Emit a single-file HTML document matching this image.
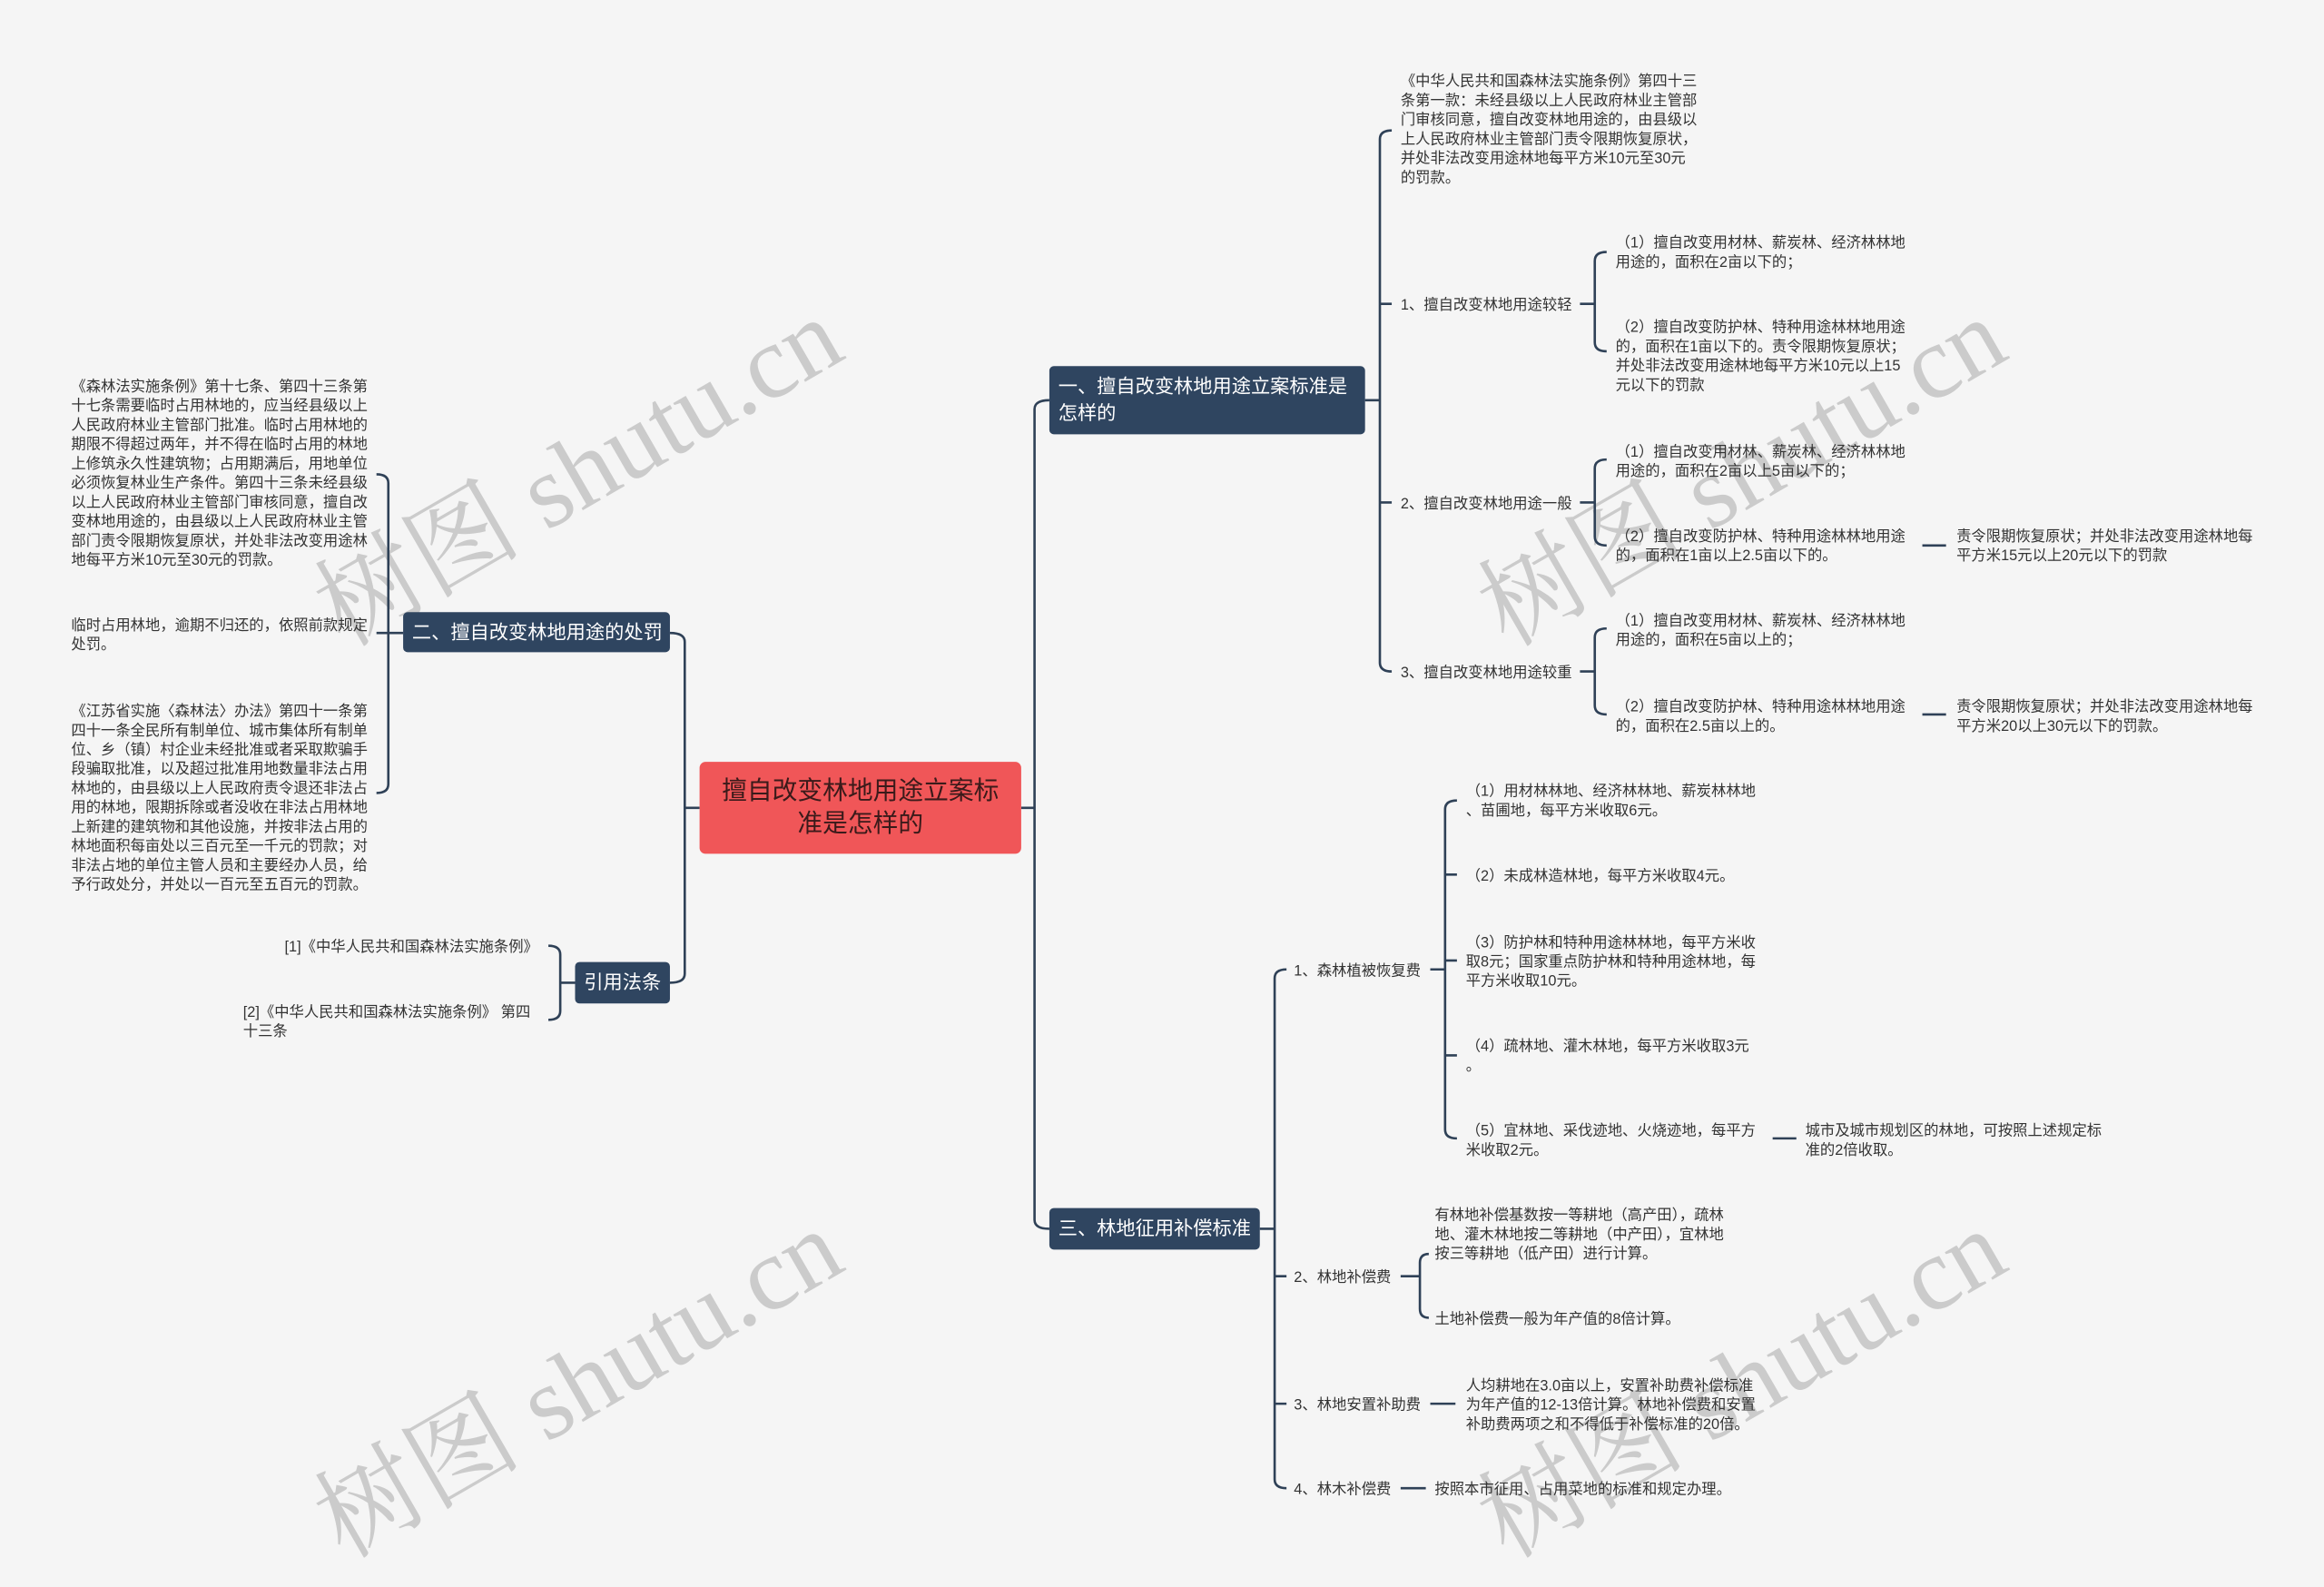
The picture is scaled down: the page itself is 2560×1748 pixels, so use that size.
<!DOCTYPE html>
<html><head><meta charset="utf-8">
<style>
html,body{margin:0;padding:0;background:#f5f5f5;}
body{width:2560px;height:1729px;overflow:hidden;position:relative;}
#w{position:absolute;left:0;top:0;width:1568px;height:1059px;transform:scale(1.632653);transform-origin:0 0;font-family:"Liberation Sans","Noto Sans CJK SC",sans-serif;color:#333;}
.t{position:absolute;font-size:10px;line-height:13px;white-space:nowrap;margin-top:2px;}
.n{position:absolute;background:#2f4560;color:#fff;border-radius:3px;font-size:13px;line-height:17px;box-sizing:border-box;padding:5px 6px;white-space:nowrap;}
.wm{position:absolute;font-family:"Liberation Serif","Noto Serif CJK SC",serif;font-size:70px;color:#cbcbcb;transform:rotate(-30deg);transform-origin:0 0;white-space:nowrap;}
svg{position:absolute;left:0;top:0;}
</style></head><body><div id="w">
<div class="wm" style="left:192px;top:368px;">树图 shutu.cn</div>
<div class="wm" style="left:977px;top:368px;">树图 shutu.cn</div>
<div class="wm" style="left:192px;top:983px;">树图 shutu.cn</div>
<div class="wm" style="left:977px;top:983px;">树图 shutu.cn</div>
<svg width="1568" height="1059" fill="none" stroke="#2f4157" stroke-width="1.6">
<path d="M689 545 L698 545 M708 270 Q698 270 698 276 L698 823 Q698 829 708 829"/>
<path d="M472 545 L462 545 M452 427 Q462 427 462 433 L462 657 Q462 663 452 663"/>
<path d="M272 427 L254 427 M254 320 Q262 320 262 326 L262 529 Q262 535 254 535"/>
<path d="M388 663 L378 663 M370 638 Q378 638 378 644 L378 682 Q378 688 370 688"/>
<path d="M921 270 L931 270 M939 88 Q931 88 931 94 L931 447 Q931 453 939 453 M931 205 L939 205 M931 339 L939 339"/>
<path d="M1066 205 L1076 205 M1084 170 Q1076 170 1076 176 L1076 231 Q1076 237 1084 237"/>
<path d="M1066 339 L1076 339 M1084 310 Q1076 310 1076 316 L1076 362 Q1076 368 1084 368"/>
<path d="M1066 453 L1076 453 M1084 424 Q1076 424 1076 430 L1076 476 Q1076 482 1084 482"/>
<path d="M1297 368 L1313 368 M1297 482 L1313 482"/>
<path d="M850 829 L860 829 M868 654 Q860 654 860 660 L860 998 Q860 1004 868 1004 M860 861 L868 861 M860 947 L868 947"/>
<path d="M965 654 L975 654 M983 540 Q975 540 975 546 L975 762 Q975 768 983 768 M975 590 L983 590 M975 648 L983 648 M975 712 L983 712"/>
<path d="M1196 768 L1212 768"/>
<path d="M945 861 L958 861 M964 846 Q958 846 958 852 L958 883 Q958 889 964 889"/>
<path d="M965 947 L982 947 M945 1004 L962 1004"/>
</svg>
<div style="position:absolute;left:472px;top:514px;width:217px;height:62px;background:#f05658;border-radius:4px;color:#3a1a1a;font-size:17px;line-height:22px;text-align:center;box-sizing:border-box;padding-top:9px;">擅自改变林地用途立案标<br>准是怎样的</div>
<div class="n" style="left:708px;top:247px;width:213px;height:46px;padding-top:5px;line-height:18px;">一、擅自改变林地用途立案标准是<br>怎样的</div>
<div class="n" style="left:708px;top:815px;width:142px;height:28px;">三、林地征用补偿标准</div>
<div class="n" style="left:272px;top:413px;width:180px;height:27px;">二、擅自改变林地用途的处罚</div>
<div class="n" style="left:388px;top:649px;width:64px;height:28px;">引用法条</div>

<div class="t" style="left:945px;top:47px;">《中华人民共和国森林法实施条例》第四十三<br>条第一款：未经县级以上人民政府林业主管部<br>门审核同意，擅自改变林地用途的，由县级以<br>上人民政府林业主管部门责令限期恢复原状，<br>并处非法改变用途林地每平方米10元至30元<br>的罚款。</div>
<div class="t" style="left:945px;top:198px;">1、擅自改变林地用途较轻</div>
<div class="t" style="left:945px;top:332px;">2、擅自改变林地用途一般</div>
<div class="t" style="left:945px;top:446px;">3、擅自改变林地用途较重</div>
<div class="t" style="left:1090px;top:156px;">（1）擅自改变用材林、薪炭林、经济林林地<br>用途的，面积在2亩以下的；</div>
<div class="t" style="left:1090px;top:213px;">（2）擅自改变防护林、特种用途林林地用途<br>的，面积在1亩以下的。责令限期恢复原状；<br>并处非法改变用途林地每平方米10元以上15<br>元以下的罚款</div>
<div class="t" style="left:1090px;top:297px;">（1）擅自改变用材林、薪炭林、经济林林地<br>用途的，面积在2亩以上5亩以下的；</div>
<div class="t" style="left:1090px;top:354px;">（2）擅自改变防护林、特种用途林林地用途<br>的，面积在1亩以上2.5亩以下的。</div>
<div class="t" style="left:1320px;top:354px;">责令限期恢复原状；并处非法改变用途林地每<br>平方米15元以上20元以下的罚款</div>
<div class="t" style="left:1090px;top:411px;">（1）擅自改变用材林、薪炭林、经济林林地<br>用途的，面积在5亩以上的；</div>
<div class="t" style="left:1090px;top:469px;">（2）擅自改变防护林、特种用途林林地用途<br>的，面积在2.5亩以上的。</div>
<div class="t" style="left:1320px;top:469px;">责令限期恢复原状；并处非法改变用途林地每<br>平方米20以上30元以下的罚款。</div>

<div class="t" style="left:873px;top:647px;">1、森林植被恢复费</div>
<div class="t" style="left:873px;top:854px;">2、林地补偿费</div>
<div class="t" style="left:873px;top:940px;">3、林地安置补助费</div>
<div class="t" style="left:873px;top:997px;">4、林木补偿费</div>
<div class="t" style="left:989px;top:526px;">（1）用材林林地、经济林林地、薪炭林林地<br>、苗圃地，每平方米收取6元。</div>
<div class="t" style="left:989px;top:583px;">（2）未成林造林地，每平方米收取4元。</div>
<div class="t" style="left:989px;top:628px;">（3）防护林和特种用途林林地，每平方米收<br>取8元；国家重点防护林和特种用途林地，每<br>平方米收取10元。</div>
<div class="t" style="left:989px;top:698px;">（4）疏林地、灌木林地，每平方米收取3元<br>。</div>
<div class="t" style="left:989px;top:755px;">（5）宜林地、采伐迹地、火烧迹地，每平方<br>米收取2元。</div>
<div class="t" style="left:1218px;top:755px;">城市及城市规划区的林地，可按照上述规定标<br>准的2倍收取。</div>
<div class="t" style="left:968px;top:812px;">有林地补偿基数按一等耕地（高产田），疏林<br>地、灌木林地按二等耕地（中产田），宜林地<br>按三等耕地（低产田）进行计算。</div>
<div class="t" style="left:968px;top:882px;">土地补偿费一般为年产值的8倍计算。</div>
<div class="t" style="left:989px;top:927px;">人均耕地在3.0亩以上，安置补助费补偿标准<br>为年产值的12-13倍计算。林地补偿费和安置<br>补助费两项之和不得低于补偿标准的20倍。</div>
<div class="t" style="left:968px;top:997px;">按照本市征用、占用菜地的标准和规定办理。</div>

<div class="t" style="left:48px;top:253px;">《森林法实施条例》第十七条、第四十三条第<br>十七条需要临时占用林地的，应当经县级以上<br>人民政府林业主管部门批准。临时占用林地的<br>期限不得超过两年，并不得在临时占用的林地<br>上修筑永久性建筑物；占用期满后，用地单位<br>必须恢复林业生产条件。第四十三条未经县级<br>以上人民政府林业主管部门审核同意，擅自改<br>变林地用途的，由县级以上人民政府林业主管<br>部门责令限期恢复原状，并处非法改变用途林<br>地每平方米10元至30元的罚款。</div>
<div class="t" style="left:48px;top:414px;">临时占用林地，逾期不归还的，依照前款规定<br>处罚。</div>
<div class="t" style="left:48px;top:472px;">《江苏省实施〈森林法〉办法》第四十一条第<br>四十一条全民所有制单位、城市集体所有制单<br>位、乡（镇）村企业未经批准或者采取欺骗手<br>段骗取批准，以及超过批准用地数量非法占用<br>林地的，由县级以上人民政府责令退还非法占<br>用的林地，限期拆除或者没收在非法占用林地<br>上新建的建筑物和其他设施，并按非法占用的<br>林地面积每亩处以三百元至一千元的罚款；对<br>非法占地的单位主管人员和主要经办人员，给<br>予行政处分，并处以一百元至五百元的罚款。</div>
<div class="t" style="left:192px;top:631px;">[1]《中华人民共和国森林法实施条例》</div>
<div class="t" style="left:164px;top:675px;">[2]《中华人民共和国森林法实施条例》 第四<br>十三条</div>
</div></body></html>
